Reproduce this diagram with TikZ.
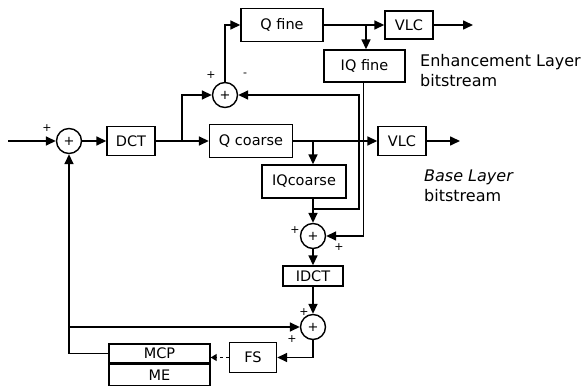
\documentclass[tikz,border=0pt]{standalone}
\usepackage{fontspec}
\setmainfont{DejaVu Sans}
\usetikzlibrary{arrows.meta}
\begin{document}
\begin{tikzpicture}[x=1pt,y=-1pt,
 blk/.style={draw,line width=1.4pt,inner sep=0pt,font=\fontsize{14.5}{16}\selectfont},
 sum/.style={draw,circle,line width=1.4pt,minimum size=25pt,inner sep=0pt,font=\fontsize{13}{15}\selectfont},
 ln/.style={line width=1.6pt},
 arr/.style={ln,-{Triangle[length=10pt,width=9pt]}},
 darr/.style={line width=1.2pt,dash pattern=on 3pt off 3pt,-{Triangle[length=6pt,width=7pt]}},
 sg/.style={font=\fontsize{11}{12}\selectfont,inner sep=0pt},
 lbl/.style={font=\fontsize{16}{20}\selectfont,align=left,anchor=west,inner sep=0pt}]
\useasboundingbox (0,0) rectangle (586,387);

% summing junctions
\node[sum] (a1) at (69,141) {+};
\node[sum] (at) at (225,95) {+};
\node[sum] (a2) at (313,236) {+};
\node[sum] (a3) at (313,327) {+};

% blocks
\node[blk,minimum width=48pt,minimum height=29pt] (dct) at (131,141) {DCT};
\node[blk,minimum width=82pt,minimum height=33pt] (qf) at (282,25) {Q fine};
\node[blk,minimum width=48pt,minimum height=28pt] (vlc1) at (409,25) {VLC};
\node[blk,minimum width=81pt,minimum height=32pt] (iqf) at (364.5,66) {IQ fine};
\node[blk,minimum width=83pt,minimum height=33pt] (qc) at (251,141) {Q coarse};
\node[blk,minimum width=48pt,minimum height=29pt] (vlc2) at (402,141) {VLC};
\node[blk,minimum width=84pt,minimum height=33pt] (iqc) at (304,181.5) {IQcoarse};
\node[blk,minimum width=60pt,minimum height=20pt] (idct) at (313,276) {IDCT};
\node[blk,minimum width=47pt,minimum height=30pt] (fs) at (253,357.5) {FS};
\node[blk,minimum width=101pt,minimum height=19pt] (mcp) at (159.5,353.5) {MCP};
\node[blk,minimum width=101pt,minimum height=21pt,anchor=north] (me) at (mcp.south) {ME};

% labels
\node[lbl] (enh) at (420,71) {Enhancement Layer\\bitstream};
\node[lbl] (base) at (424,186) {\itshape Base Layer\\bitstream};

% signs
\node[sg] (s1) at (47,128) {+};
\node[sg] (s2) at (211,75) {+};
\node[sg] (s3) at (245,75) {-};
\node[sg] (s4) at (295,230) {+};
\node[sg] (s5) at (339,247) {+};
\node[sg] (s6) at (304,312) {+};
\node[sg] (s7) at (292,339) {+};

% coordinates
\coordinate (in) at (8,141);
\coordinate (j1) at (182,141);
\coordinate (j2) at (366,25);
\coordinate (out1) at (473,25);
\coordinate (j3) at (313,141);
\coordinate (out2) at (460,141);
\coordinate (j4) at (313,209);
\coordinate (j5) at (69,327);

% connectors
\draw[arr] (in) -- (a1);
\draw[arr] (a1) -- (dct);
\draw[arr] (dct) -- (qc);
\draw[arr] (j1) |- (at);
\draw[arr] (at) |- (qf);
\draw[arr] (qf) -- (vlc1);
\draw[arr] (j2) -- (j2 |- iqf.north);
\draw[arr] (vlc1) -- (out1);
\draw[arr] (qc) -- (vlc2);
\draw[arr] (j3) -- (j3 |- iqc.north);
\draw[arr] (vlc2) -- (out2);
\draw[arr] (a2 |- iqc.south) -- (a2);
\draw[arr] (j4) -- ++(46,0) |- (at);
\draw[arr] ([xshift=-1pt]iqf.south) |- (a2);
\draw[arr] (a2) -- (idct);
\draw[arr] (idct) -- (a3);
\draw[arr] (a3) |- (fs);
\draw[darr] (fs.west) -- (fs.west -| mcp.east);
\draw[arr] (mcp.west) -| (a1);
\draw[arr] (j5) -- (a3);
\end{tikzpicture}
\end{document}
